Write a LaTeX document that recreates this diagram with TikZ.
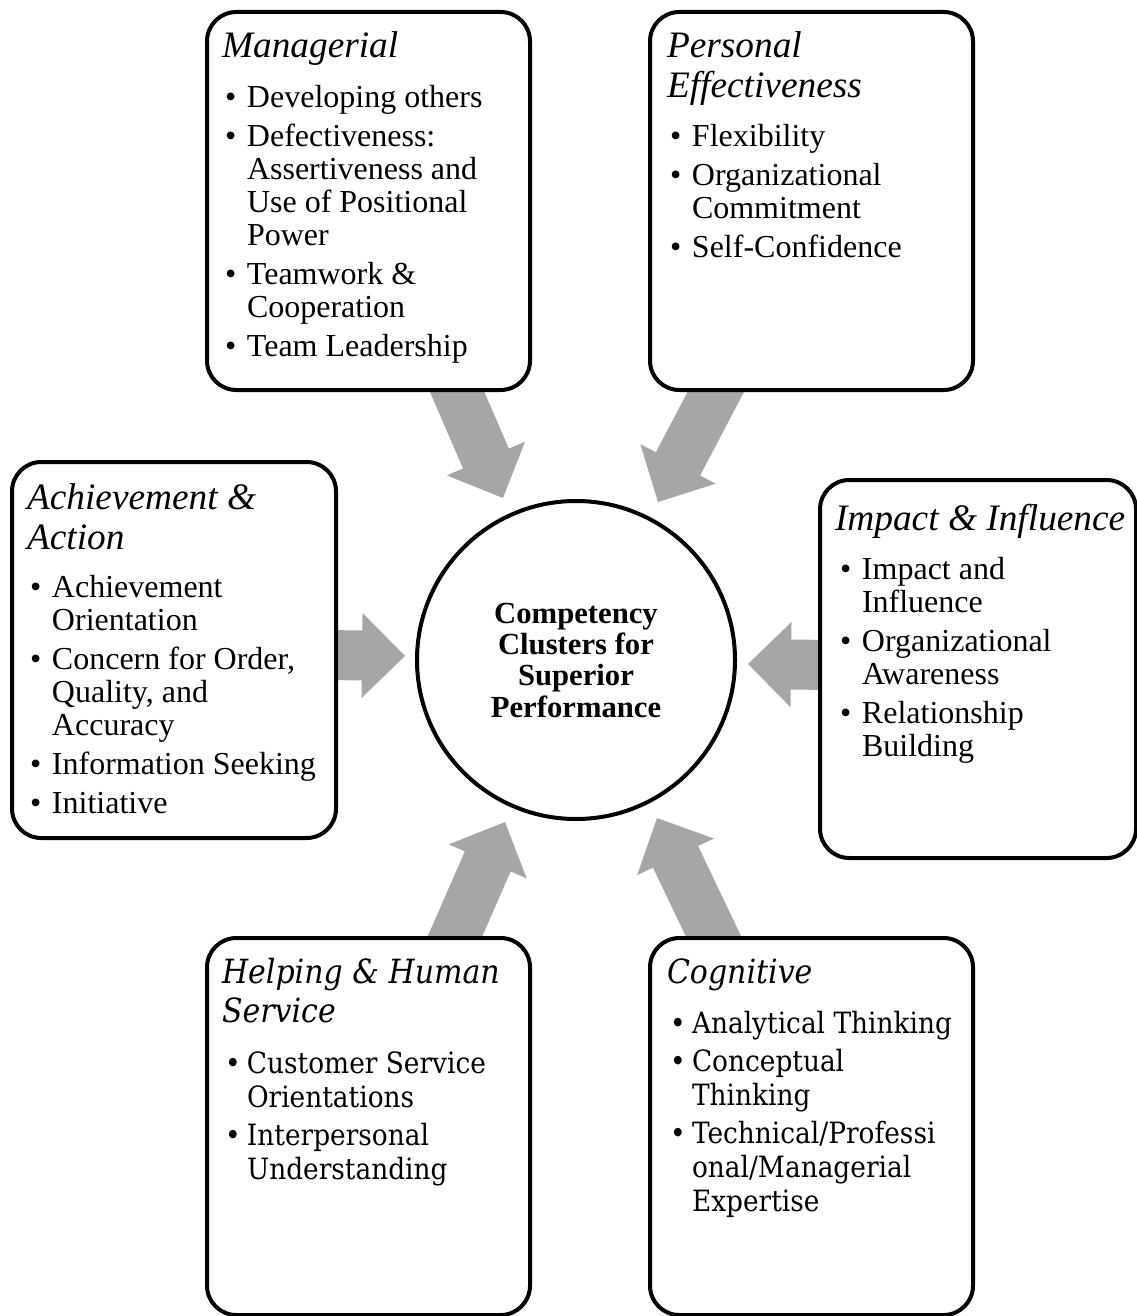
\documentclass[tikz,border=0pt]{standalone}
\usepackage{fontspec}
\setmainfont{Liberation Serif}
\newfontfamily\camfont{DejaVu Serif}[FakeStretch=0.9]
\usetikzlibrary{calc,fit}
\definecolor{arrowgray}{RGB}{166,166,166}
\newcommand\bul{\makebox[16.5pt][l]{•}}
\newcommand\ind{\hspace*{16.5pt}}
\newcommand\ttlfont{\fontsize{28pt}{30pt}\selectfont\itshape}
\newcommand\bodyfont{\fontsize{24pt}{24.75pt}\selectfont}
\newcommand\camttl{\camfont\fontsize{25pt}{29.25pt}\selectfont\itshape}
\newcommand\cambody{\camfont\fontsize{22pt}{25.5pt}\selectfont}
% fat block arrow from #1 (start) to #2 (tip)
\newcommand\fatarrow[2]{%
  \path (#2) coordinate (fatip) ($(#2)!32.25pt!(#1)$) coordinate (fabase);
  \fill[arrowgray] ($(#1)!18.75pt!90:(fatip)$) -- ($(fabase)!18.75pt!90:(fatip)$)
    -- ($(fabase)!31.9pt!90:(fatip)$) -- (fatip) -- ($(fabase)!31.9pt!-90:(fatip)$)
    -- ($(fabase)!18.75pt!-90:(fatip)$) -- ($(#1)!18.75pt!-90:(fatip)$) -- cycle;}
\tikzset{
  cbox/.style={draw, line width=3pt, rounded corners=22pt, fill=white, inner sep=0pt},
  txt/.style={inner sep=0pt, outer sep=0pt, anchor=base west, align=left},
}
\begin{document}
\begin{tikzpicture}[x=0.75pt,y=-0.75pt]
\clip (0,0) rectangle (1137,1316);
\fill[white] (0,0) rectangle (1137,1316);

% arrow end points
\coordinate (mgrS) at (452,380);   \coordinate (mgrT) at (503,498);
\coordinate (perS) at (722,380);   \coordinate (perT) at (658,502);
\coordinate (achS) at (325,655);   \coordinate (achT) at (405,656);
\coordinate (impS) at (830,665);   \coordinate (impT) at (748,664);
\coordinate (helS) at (449,950);   \coordinate (helT) at (505,822);
\coordinate (cogS) at (720,950);   \coordinate (cogT) at (657,818);

\fatarrow{mgrS}{mgrT}
\fatarrow{perS}{perT}
\fatarrow{achS}{achT}
\fatarrow{impS}{impT}
\fatarrow{helS}{helT}
\fatarrow{cogS}{cogT}

% centre
\node[circle, draw, line width=3pt, fill=white, minimum size=238.5pt, inner sep=0pt,
  align=center, font=\fontsize{23pt}{23.5pt}\selectfont\bfseries] (core) at (576,660)
  {Competency\\Clusters for\\Superior\\Performance};

% boxes
\node[cbox, fit={(207,12) (530,390)}] (mgr) {};
\node[cbox, fit={(650,12) (973,390)}] (per) {};
\node[cbox, fit={(12,462) (336,838)}] (ach) {};
\node[cbox, fit={(820,480) (1136,858)}] (imp) {};
\node[cbox, fit={(207,938) (530,1315)}] (hel) {};
\node[cbox, fit={(650,938) (973,1315)}] (cog) {};

% Managerial
\node[txt] (mgrTitle) at (222,58) {\ttlfont Managerial};
\node[txt] (mgrList) at (225,108) {\bodyfont\begin{tabular}[t]{@{}l@{}}
\bul Developing others\\[4.5pt]
\bul Defectiveness:\\
\ind Assertiveness and\\
\ind Use of Positional\\
\ind Power\\[4.5pt]
\bul Teamwork \&\\
\ind Cooperation\\[4.5pt]
\bul Team Leadership\end{tabular}};

% Personal Effectiveness
\node[txt] (perTitle) at (667,58) {\ttlfont\begin{tabular}[t]{@{}l@{}}Personal\\Effectiveness\end{tabular}};
\node[txt] (perList) at (670,147) {\bodyfont\begin{tabular}[t]{@{}l@{}}
\bul Flexibility\\[4.5pt]
\bul Organizational\\
\ind Commitment\\[4.5pt]
\bul Self-Confidence\end{tabular}};

% Achievement & Action
\node[txt] (achTitle) at (27,509) {\ttlfont\begin{tabular}[t]{@{}l@{}}Achievement \&\\Action\end{tabular}};
\node[txt] (achList) at (30,597) {\bodyfont\begin{tabular}[t]{@{}l@{}}
\bul Achievement\\
\ind Orientation\\[4.5pt]
\bul Concern for Order,\\
\ind Quality, and\\
\ind Accuracy\\[4.5pt]
\bul Information Seeking\\[4.5pt]
\bul Initiative\end{tabular}};

% Impact & Influence
\node[txt] (impTitle) at (835,530) {\ttlfont Impact \& Influence};
\node[txt] (impList) at (840,579) {\bodyfont\begin{tabular}[t]{@{}l@{}}
\bul Impact and\\
\ind Influence\\[4.5pt]
\bul Organizational\\
\ind Awareness\\[4.5pt]
\bul Relationship\\
\ind Building\end{tabular}};

% Helping & Human Service
\node[txt] (helTitle) at (222,983) {\camttl\begin{tabular}[t]{@{}l@{}}Helping \& Human\\Service\end{tabular}};
\node[txt] (helList) at (225,1073) {\cambody\begin{tabular}[t]{@{}l@{}}
\bul Customer Service\\
\ind Orientations\\[3pt]
\bul Interpersonal\\
\ind Understanding\end{tabular}};

% Cognitive
\node[txt] (cogTitle) at (667,983) {\camttl Cognitive};
\node[txt] (cogList) at (670,1033) {\cambody\begin{tabular}[t]{@{}l@{}}
\bul Analytical Thinking\\[3pt]
\bul Conceptual\\
\ind Thinking\\[3pt]
\bul Technical/Professi\\
\ind onal/Managerial\\
\ind Expertise\end{tabular}};
\end{tikzpicture}
\end{document}
